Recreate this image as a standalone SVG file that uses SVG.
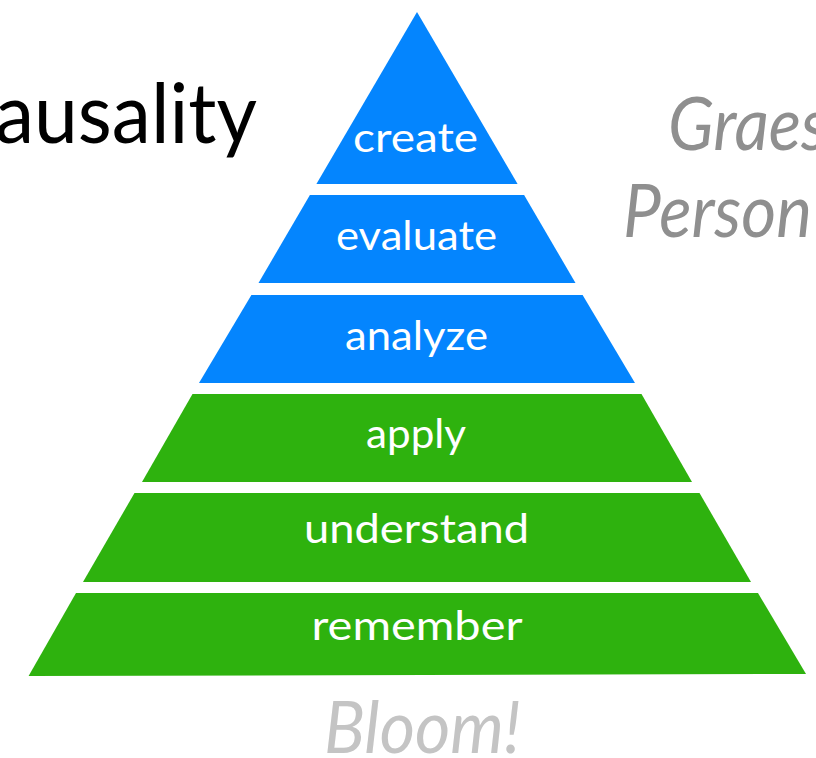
<svg xmlns="http://www.w3.org/2000/svg" width="816" height="758" viewBox="0 0 816 758">
<style>
.blue{fill:#0485FE}
.green{fill:#2EB20E}
.lbl{font-family:Lato,"Open Sans","Liberation Sans",sans-serif;font-size:40px;fill:#ffffff;text-anchor:middle}
.side{font-family:Lato,"Open Sans","Liberation Sans",sans-serif;font-style:italic;fill:#8f8f8f;font-size:74px}
</style>
<rect width="816" height="758" fill="#ffffff"/>
<text id="title" x="257" y="143" text-anchor="end" font-family="Lato,'Open Sans','Liberation Sans',sans-serif" font-size="84" fill="#000000" textLength="262" lengthAdjust="spacingAndGlyphs">ausality</text>
<g id="side-text">
<text class="side" x="668" y="150" textLength="160" lengthAdjust="spacingAndGlyphs">Graes</text>
<text class="side" x="623" y="237" textLength="189" lengthAdjust="spacingAndGlyphs">Person</text>
</g>
<g id="create"><polygon class="blue" points="417,12 517.6,184 316.4,184"/><text class="lbl" x="415.5" y="152" textLength="125" lengthAdjust="spacingAndGlyphs">create</text></g>
<g id="evaluate"><polygon class="blue" points="309.9,195 524.1,195 575.5,283 258.5,283"/><text class="lbl" x="416.5" y="250" textLength="161" lengthAdjust="spacingAndGlyphs">evaluate</text></g>
<g id="analyze"><polygon class="blue" points="251.4,295 582.6,295 635,383 199,383"/><text class="lbl" x="416.5" y="350" textLength="143" lengthAdjust="spacingAndGlyphs">analyze</text></g>
<g id="apply"><polygon class="green" points="192.5,394 641.5,394 692,482 142,482"/><text class="lbl" x="416" y="448" textLength="100" lengthAdjust="spacingAndGlyphs">apply</text></g>
<g id="understand"><polygon class="green" points="134.5,493 699.5,493 751,582 83,582"/><text class="lbl" x="416.5" y="543" textLength="225" lengthAdjust="spacingAndGlyphs">understand</text></g>
<g id="remember"><polygon class="green" points="76,593 758,593 806,674 28.6,676"/><text class="lbl" x="417" y="640" textLength="211" lengthAdjust="spacingAndGlyphs">remember</text></g>
<g id="connectors"></g>
<text id="bloom" x="422.5" y="753" text-anchor="middle" font-family="Lato,'Open Sans','Liberation Sans',sans-serif" font-style="italic" font-size="72" fill="#c4c4c4" textLength="197" lengthAdjust="spacingAndGlyphs">Bloom!</text>
</svg>
